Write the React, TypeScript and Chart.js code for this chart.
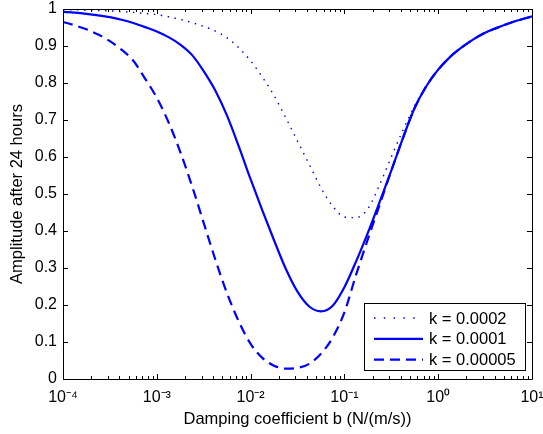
import React, { useEffect, useRef } from "react";
import { Chart, registerables } from "chart.js";

Chart.register(...registerables);

// Damping coefficient b (N/(m/s)), log-spaced sample positions
const bValues = [
  0.0001, 0.00013335, 0.00017783, 0.00023714, 0.00031623, 0.0004217, 0.00056234, 0.00074989,
  0.001, 0.0013335, 0.0017783, 0.0023714, 0.0031623, 0.004217, 0.0056234, 0.0074989,
  0.01, 0.013335, 0.017783, 0.023714, 0.031623, 0.04217, 0.056234, 0.074989,
  0.1, 0.13335, 0.17783, 0.23714, 0.31623, 0.4217, 0.56234, 0.74989,
  1, 1.3335, 1.7783, 2.3714, 3.1623, 4.217, 5.6234, 7.4989, 10,
];

// Amplitude after 24 hours, k = 0.0002 (dotted)
const ampK0002 = [
  0.998, 0.998, 0.997, 0.996, 0.995, 0.993, 0.991, 0.988,
  0.985, 0.979, 0.972, 0.963, 0.953, 0.94, 0.922, 0.895,
  0.86, 0.816, 0.766, 0.706, 0.643, 0.58, 0.517, 0.467,
  0.438, 0.436, 0.46, 0.525, 0.6, 0.673, 0.739, 0.793,
  0.836, 0.87, 0.896, 0.918, 0.936, 0.949, 0.961, 0.971, 0.98,
];

// Amplitude after 24 hours, k = 0.0001 (solid)
const ampK0001 = [
  0.992, 0.99, 0.987, 0.983, 0.978, 0.971, 0.962, 0.951,
  0.939, 0.924, 0.904, 0.876, 0.832, 0.779, 0.711, 0.628,
  0.54, 0.456, 0.375, 0.298, 0.236, 0.196, 0.183, 0.198,
  0.248, 0.318, 0.395, 0.478, 0.563, 0.652, 0.733, 0.792,
  0.836, 0.87, 0.896, 0.918, 0.936, 0.949, 0.961, 0.971, 0.98,
];

// Amplitude after 24 hours, k = 0.00005 (dashed)
const ampK00005 = [
  0.965, 0.956, 0.945, 0.931, 0.913, 0.89, 0.86, 0.812,
  0.76, 0.694, 0.614, 0.522, 0.422, 0.322, 0.231, 0.155,
  0.095, 0.057, 0.036, 0.028, 0.03, 0.041, 0.068, 0.112,
  0.18, 0.282, 0.378, 0.47, 0.563, 0.652, 0.733, 0.792,
  0.836, 0.87, 0.896, 0.918, 0.936, 0.949, 0.961, 0.971, 0.98,
];

const seriesLabels = ["k = 0.0002", "k = 0.0001", "k = 0.00005"];

const xTickValues = [0.0001, 0.001, 0.01, 0.1, 1, 10];
const xTickLabels = ["10⁻⁴", "10⁻³", "10⁻²", "10⁻¹", "10⁰", "10¹"];
const yTickValues = [0, 0.1, 0.2, 0.3, 0.4, 0.5, 0.6, 0.7, 0.8, 0.9, 1];
const yTickLabels = ["0", "0.1", "0.2", "0.3", "0.4", "0.5", "0.6", "0.7", "0.8", "0.9", "1"];

const FONT = "'Liberation Sans', Arial, Helvetica, sans-serif";
const BLUE = "#0000ff";

const boxPlugin = {
  id: "matlabBox",
  afterDatasetsDraw(chart: any) {
    const { ctx, chartArea: a, scales } = chart;
    const xs = scales.x;
    const ys = scales.y;
    ctx.save();
    ctx.strokeStyle = "#000";
    ctx.lineWidth = 1;
    ctx.beginPath();
    ctx.rect(Math.round(a.left) + 0.5, Math.round(a.top) + 0.5, Math.round(a.right - a.left), Math.round(a.bottom - a.top));
    ctx.stroke();
    ctx.beginPath();
    for (const v of yTickValues) {
      const y = Math.round(ys.getPixelForValue(v)) + 0.5;
      ctx.moveTo(a.left, y);
      ctx.lineTo(a.left + 5, y);
      ctx.moveTo(a.right, y);
      ctx.lineTo(a.right - 5, y);
    }
    for (let d = 0; d < xTickValues.length; d++) {
      const base = xTickValues[d];
      const xm = Math.round(xs.getPixelForValue(base)) + 0.5;
      ctx.moveTo(xm, a.bottom);
      ctx.lineTo(xm, a.bottom - 5);
      ctx.moveTo(xm, a.top);
      ctx.lineTo(xm, a.top + 5);
      if (d < xTickValues.length - 1) {
        for (let m = 2; m <= 9; m++) {
          const x = Math.round(xs.getPixelForValue(base * m)) + 0.5;
          ctx.moveTo(x, a.bottom);
          ctx.lineTo(x, a.bottom - 3);
          ctx.moveTo(x, a.top);
          ctx.lineTo(x, a.top + 3);
        }
      }
    }
    ctx.stroke();
    ctx.restore();
  },
};

const legendPlugin = {
  id: "matlabLegend",
  afterDraw(chart: any) {
    const { ctx } = chart;
    const left = 364.5;
    const top = 303.5;
    const w = 161;
    const h = 67;
    ctx.save();
    ctx.fillStyle = "#fff";
    ctx.fillRect(left, top, w, h);
    ctx.strokeStyle = "#000";
    ctx.lineWidth = 1;
    ctx.strokeRect(left, top, w, h);
    ctx.font = `16.5px ${FONT}`;
    ctx.textBaseline = "middle";
    ctx.textAlign = "left";
    chart.data.datasets.forEach((ds: any, i: number) => {
      const y = top + 14.5 + i * 20.8;
      ctx.beginPath();
      ctx.strokeStyle = ds.borderColor;
      ctx.lineWidth = ds.borderWidth;
      ctx.setLineDash(i === 0 ? [1.5, 8.3] : ds.borderDash || []);
      ctx.moveTo(374, y);
      ctx.lineTo(423, y);
      ctx.stroke();
      ctx.setLineDash([]);
      ctx.fillStyle = "#000";
      ctx.fillText(ds.label, 429, y + 1);
    });
    ctx.restore();
  },
};

export default function App() {
  const ref = useRef<HTMLCanvasElement | null>(null);

  useEffect(() => {
    if (!ref.current) return;
    const mk = (arr: number[]) => bValues.map((b, i) => ({ x: b, y: arr[i] }));
    const chart = new Chart(ref.current, {
      type: "line",
      data: {
        datasets: [
          {
            label: seriesLabels[0],
            data: mk(ampK0002),
            borderColor: BLUE,
            borderWidth: 1.4,
            borderDash: [1.5, 5.5],
            pointRadius: 0,
            cubicInterpolationMode: "monotone",
            fill: false,
          },
          {
            label: seriesLabels[1],
            data: mk(ampK0001),
            borderColor: BLUE,
            borderWidth: 2.2,
            pointRadius: 0,
            cubicInterpolationMode: "monotone",
            fill: false,
          },
          {
            label: seriesLabels[2],
            data: mk(ampK00005),
            borderColor: BLUE,
            borderWidth: 2.2,
            borderDash: [10, 6],
            pointRadius: 0,
            cubicInterpolationMode: "monotone",
            fill: false,
          },
        ],
      },
      options: {
        animation: false,
        responsive: false,
        maintainAspectRatio: false,
        layout: { padding: { left: 0, top: 9, right: 11, bottom: 0 } },
        plugins: { legend: { display: false }, tooltip: { enabled: false } },
        scales: {
          x: {
            type: "logarithmic",
            min: 0.0001,
            max: 10,
            grid: { display: false, drawTicks: false },
            border: { display: false },
            afterBuildTicks: (s: any) => {
              s.ticks = xTickValues.map((v) => ({ value: v }));
            },
            afterFit: (s: any) => {
              s.height = 55;
              s.paddingLeft = 0;
              s.paddingRight = 0;
              s.paddingTop = 0;
              s.paddingBottom = 0;
            },
            ticks: {
              autoSkip: false,
              maxRotation: 0,
              padding: 9,
              color: "#000",
              font: { family: FONT, size: 16 },
              callback: (_v: any, i: number) => xTickLabels[i],
            },
            title: {
              display: true,
              text: "Damping coefficient b (N/(m/s))",
              color: "#000",
              font: { family: FONT, size: 16.5 },
              padding: { top: 0, bottom: 5 },
            },
          },
          y: {
            type: "linear",
            min: 0,
            max: 1,
            grid: { display: false, drawTicks: false },
            border: { display: false },
            afterBuildTicks: (s: any) => {
              s.ticks = yTickValues.map((v) => ({ value: v }));
            },
            afterFit: (s: any) => {
              s.width = 63;
              s.paddingLeft = 0;
              s.paddingRight = 0;
              s.paddingTop = 0;
              s.paddingBottom = 0;
            },
            ticks: {
              autoSkip: false,
              padding: 6,
              color: "#000",
              font: { family: FONT, size: 16 },
              callback: (_v: any, i: number) => yTickLabels[i],
            },
            title: {
              display: true,
              text: "Amplitude after 24 hours",
              color: "#000",
              font: { family: FONT, size: 16.5 },
              padding: { top: 8, bottom: 0 },
            },
          },
        },
      } as any,
      plugins: [boxPlugin, legendPlugin],
    });
    return () => chart.destroy();
  }, []);

  return (
    <div style={{ position: "absolute", left: 0, top: 0, width: 543, height: 434, background: "#fff" }}>
      <canvas ref={ref} width={543} height={434} style={{ display: "block", width: 543, height: 434 }} />
    </div>
  );
}
